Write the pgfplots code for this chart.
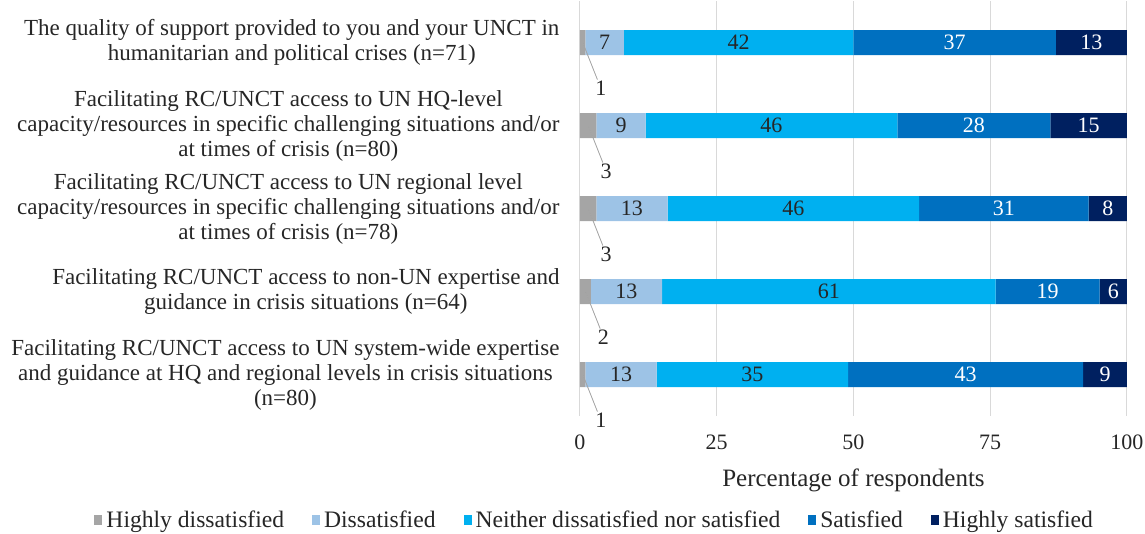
\documentclass[border=0pt]{standalone}
\usepackage{fontspec}
\setmainfont{Liberation Serif}
\usepackage{pgfplots}
\usepackage{pgfplotstable}
\pgfplotsset{compat=1.18}
\definecolor{hd}{HTML}{A5A5A5}
\definecolor{ds}{HTML}{9DC3E6}
\definecolor{ne}{HTML}{00B0F0}
\definecolor{sa}{HTML}{0070C0}
\definecolor{hs}{HTML}{002060}
\definecolor{txt}{HTML}{262626}
\definecolor{grd}{HTML}{D9D9D9}

% hsx = visible part of the last segment (totals above 100 are cut at the axis end)
\pgfplotstableread{
y hd ds ne sa hs hsx
0 1 7 42 37 13 13
1 3 9 46 28 15 14
2 3 13 46 31 8 7
3 2 13 61 19 6 5
4 1 13 35 43 9 8
}\data

\newcommand{\fs}{\fontsize{22}{25}\selectfont}
\newcommand{\fl}{\fontsize{23}{25}\selectfont}

\begin{document}
\begin{tikzpicture}[font=\fs]
\useasboundingbox (-580pt,-117pt) rectangle (565pt,416pt);
\begin{axis}[
  xbar stacked,
  scale only axis,
  width=547pt, height=415pt,
  bar width=25pt,
  xmin=0, xmax=100,
  ymin=-0.5, ymax=4.5,
  y dir=reverse,
  xtick={0,25,50,75,100},
  ytick={0,1,2,3,4},
  yticklabels={
    {The quality of support provided to you and your UNCT in\\humanitarian and political crises (n=71)},
    {Facilitating RC/UNCT access to UN HQ-level\\capacity/resources in specific challenging situations and/or\\at times of crisis (n=80)},
    {Facilitating RC/UNCT access to UN regional level\\capacity/resources in specific challenging situations and/or\\at times of crisis (n=78)},
    {Facilitating RC/UNCT access to non-UN expertise and\\guidance in crisis situations (n=64)},
    {Facilitating RC/UNCT access to UN system-wide expertise\\and guidance at HQ and regional levels in crisis situations\\(n=80)}
  },
  yticklabel style={align=center, font=\fl, text=txt, xshift=-17pt},
  xticklabel style={font=\fs, text=txt, anchor=center, yshift=-26pt},
  xmajorgrids,
  grid style={draw=grd, line width=1pt},
  axis line style={draw=none},
  major tick length=0pt,
  /pgf/number format/assume math mode=true,
  xlabel={Percentage of respondents},
  xlabel style={at={(axis description cs:0.5,-0.155)}, anchor=center, font=\fontsize{25}{27}\selectfont, text=txt},
  legend style={at={(0.027,-0.25)}, anchor=center, legend columns=5, draw=none,
    font=\fontsize{23.6}{25}\selectfont, text=txt,
    /tikz/every even column/.append style={column sep=26pt},
    /tikz/every odd column/.append style={column sep=2pt}},
  legend image code/.code={\fill[#1] (0pt,-5pt) rectangle (8pt,5pt);},
  nodes near coords,
  nodes near coords style={font=\fs},
]
\addplot[fill=hd, draw=none, nodes near coords={},
  every node near coord/.append style={inner sep=0pt, pin={[pin distance=38pt, pin edge={draw=gray!70, line width=0.8pt}, font=\fs, text=txt, inner sep=1pt]-73:\pgfmathprintnumber{\pgfplotspointmeta}}}]
  table[x=hd, y=y]{\data};
\addplot[fill=ds, draw=none, every node near coord/.append style={text=txt}] table[x=ds, y=y]{\data};
\addplot[fill=ne, draw=none, every node near coord/.append style={text=txt}] table[x=ne, y=y]{\data};
\addplot[fill=sa, draw=none, every node near coord/.append style={text=white}] table[x=sa, y=y]{\data};
\addplot[fill=hs, draw=none, point meta=explicit, every node near coord/.append style={text=white}] table[x=hsx, y=y, meta=hs]{\data};
\legend{Highly dissatisfied, Dissatisfied, Neither dissatisfied nor satisfied, Satisfied, Highly satisfied}
\end{axis}
\end{tikzpicture}
\end{document}
